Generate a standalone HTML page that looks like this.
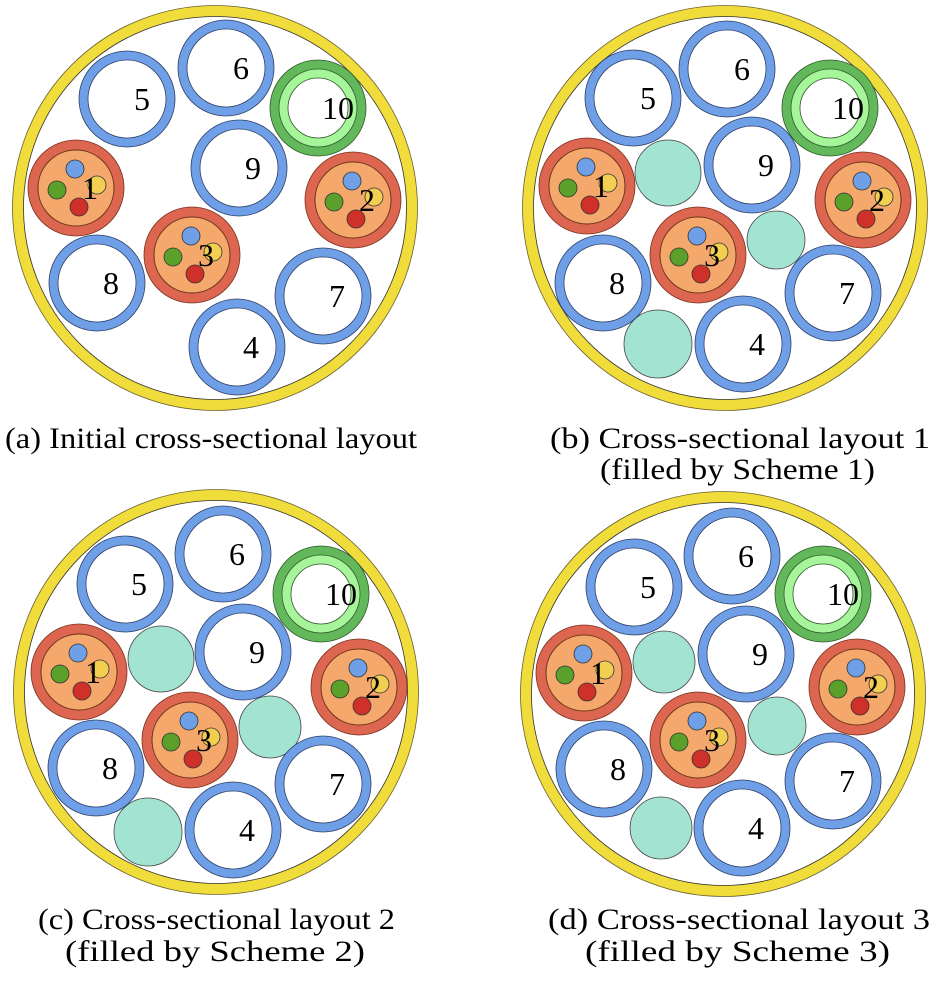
<!DOCTYPE html>
<html><head><meta charset="utf-8"><style>
html,body{margin:0;padding:0;background:#fff;}
svg{display:block;}
text{font-family:"Liberation Serif","Times New Roman",serif;fill:#000;}
</style></head><body>
<svg width="946" height="982" viewBox="0 0 946 982" xmlns="http://www.w3.org/2000/svg" font-family="Liberation Serif, serif">
<defs>
<g id="blue">
  <circle r="43.5" fill="#fff" stroke="#6f9fe6" stroke-width="9"/>
  <circle r="48" fill="none" stroke="#2f3f66" stroke-width="0.8"/>
  <circle r="39" fill="none" stroke="#2f3f66" stroke-width="0.8"/>
</g>
<g id="pwr">
  <circle r="48" fill="#dc6650" stroke="#7a3020" stroke-width="0.8"/>
  <circle r="38" fill="#f4a86c" stroke="#6a3418" stroke-width="1"/>
  <circle cx="-1" cy="-19" r="9" fill="#6f9fe6" stroke="#333" stroke-width="0.8"/>
  <circle cx="-19" cy="2" r="9" fill="#5aa02a" stroke="#333" stroke-width="0.8"/>
  <circle cx="3" cy="19" r="9" fill="#d0302a" stroke="#333" stroke-width="0.8"/>
  <circle cx="21" cy="-3" r="9" fill="#f2cf50" stroke="#333" stroke-width="0.8"/>
</g>
<g id="grn">
  <circle r="48" fill="#62b85a" stroke="#2f5a2a" stroke-width="0.8"/>
  <circle r="39" fill="#a6f59a" stroke="#2f5a2a" stroke-width="0.8"/>
  <circle r="30" fill="#fff" stroke="#2f5a2a" stroke-width="0.8"/>
</g>
<g id="outer">
  <circle r="197" fill="#fff" stroke="#f0dc3a" stroke-width="11"/>
  <circle r="202.5" fill="none" stroke="#6a6030" stroke-width="0.8"/>
  <circle r="191.5" fill="none" stroke="#333" stroke-width="0.8"/>
</g>
</defs>

<!-- Panel a -->
<use href="#outer" x="215" y="208"/>
<use href="#blue" x="226" y="68"/><use href="#blue" x="127" y="99"/>
<use href="#grn" x="318" y="108"/>
<use href="#blue" x="239" y="168"/>
<use href="#pwr" x="76" y="188"/><use href="#pwr" x="353" y="200"/><use href="#pwr" x="192" y="255"/>
<use href="#blue" x="97" y="283"/><use href="#blue" x="323" y="296"/><use href="#blue" x="237" y="347"/>
<g font-size="32">
<text x="233" y="79">6</text><text x="134" y="110">5</text><text x="322" y="119">10</text>
<text x="245" y="179">9</text><text x="82" y="199">1</text><text x="359" y="211">2</text>
<text x="198" y="266">3</text><text x="103" y="294">8</text><text x="329" y="307">7</text><text x="243" y="358">4</text>
</g>

<!-- Panel b -->
<use href="#outer" x="725" y="208"/>
<circle cx="668" cy="173" r="33" fill="#a2e3d2" stroke="#444" stroke-width="0.8"/>
<circle cx="776" cy="240" r="29" fill="#a2e3d2" stroke="#444" stroke-width="0.8"/>
<circle cx="658" cy="344" r="34" fill="#a2e3d2" stroke="#444" stroke-width="0.8"/>
<use href="#blue" x="727" y="69"/><use href="#blue" x="633" y="98"/>
<use href="#grn" x="830" y="108"/>
<use href="#blue" x="752" y="165"/>
<use href="#pwr" x="587" y="186"/><use href="#pwr" x="863" y="200"/><use href="#pwr" x="698" y="255"/>
<use href="#blue" x="603" y="283"/><use href="#blue" x="833" y="293"/><use href="#blue" x="743" y="344"/>
<g font-size="32">
<text x="734" y="80">6</text><text x="640" y="109">5</text><text x="832" y="119">10</text>
<text x="758" y="176">9</text><text x="593" y="197">1</text><text x="869" y="211">2</text>
<text x="704" y="266">3</text><text x="609" y="294">8</text><text x="839" y="304">7</text><text x="749" y="355">4</text>
</g>

<!-- Panel c -->
<use href="#outer" x="216" y="692"/>
<circle cx="161" cy="659" r="33" fill="#a2e3d2" stroke="#444" stroke-width="0.8"/>
<circle cx="270" cy="727" r="31" fill="#a2e3d2" stroke="#444" stroke-width="0.8"/>
<circle cx="148" cy="832" r="34" fill="#a2e3d2" stroke="#444" stroke-width="0.8"/>
<use href="#blue" x="223" y="554"/><use href="#blue" x="125" y="584"/>
<use href="#grn" x="321" y="594"/>
<use href="#blue" x="243" y="652"/>
<use href="#pwr" x="79" y="672"/><use href="#pwr" x="359" y="687"/><use href="#pwr" x="190" y="740"/>
<use href="#blue" x="96" y="768"/><use href="#blue" x="323" y="784"/><use href="#blue" x="233" y="830"/>
<g font-size="32">
<text x="229" y="565">6</text><text x="131" y="595">5</text><text x="325" y="605">10</text>
<text x="249" y="663">9</text><text x="85" y="683">1</text><text x="365" y="698">2</text>
<text x="196" y="751">3</text><text x="102" y="779">8</text><text x="329" y="795">7</text><text x="239" y="841">4</text>
</g>

<!-- Panel d -->
<use href="#outer" x="723" y="694"/>
<circle cx="664" cy="662" r="31" fill="#a2e3d2" stroke="#444" stroke-width="0.8"/>
<circle cx="777" cy="726" r="29" fill="#a2e3d2" stroke="#444" stroke-width="0.8"/>
<circle cx="661" cy="828" r="31" fill="#a2e3d2" stroke="#444" stroke-width="0.8"/>
<use href="#blue" x="732" y="556"/><use href="#blue" x="634" y="587"/>
<use href="#grn" x="823" y="594"/>
<use href="#blue" x="746" y="654"/>
<use href="#pwr" x="584" y="673"/><use href="#pwr" x="857" y="687"/><use href="#pwr" x="698" y="740"/>
<use href="#blue" x="604" y="769"/><use href="#blue" x="833" y="781"/><use href="#blue" x="742" y="828"/>
<g font-size="32">
<text x="738" y="567">6</text><text x="640" y="598">5</text><text x="827" y="605">10</text>
<text x="752" y="665">9</text><text x="590" y="684">1</text><text x="863" y="698">2</text>
<text x="704" y="751">3</text><text x="610" y="780">8</text><text x="839" y="792">7</text><text x="748" y="839">4</text>
</g>

<!-- Captions -->
<g font-size="30">
<text x="5" y="448" textLength="412" lengthAdjust="spacingAndGlyphs">(a) Initial cross-sectional layout</text>
<text x="550" y="448" textLength="380" lengthAdjust="spacingAndGlyphs">(b) Cross-sectional layout 1</text>
<text x="600" y="479" textLength="275" lengthAdjust="spacingAndGlyphs">(filled by Scheme 1)</text>
<text x="38" y="929" textLength="357" lengthAdjust="spacingAndGlyphs">(c) Cross-sectional layout 2</text>
<text x="65" y="961" textLength="300" lengthAdjust="spacingAndGlyphs">(filled by Scheme 2)</text>
<text x="548" y="929" textLength="382" lengthAdjust="spacingAndGlyphs">(d) Cross-sectional layout 3</text>
<text x="585" y="961" textLength="305" lengthAdjust="spacingAndGlyphs">(filled by Scheme 3)</text>
</g>
</svg>
</body></html>
